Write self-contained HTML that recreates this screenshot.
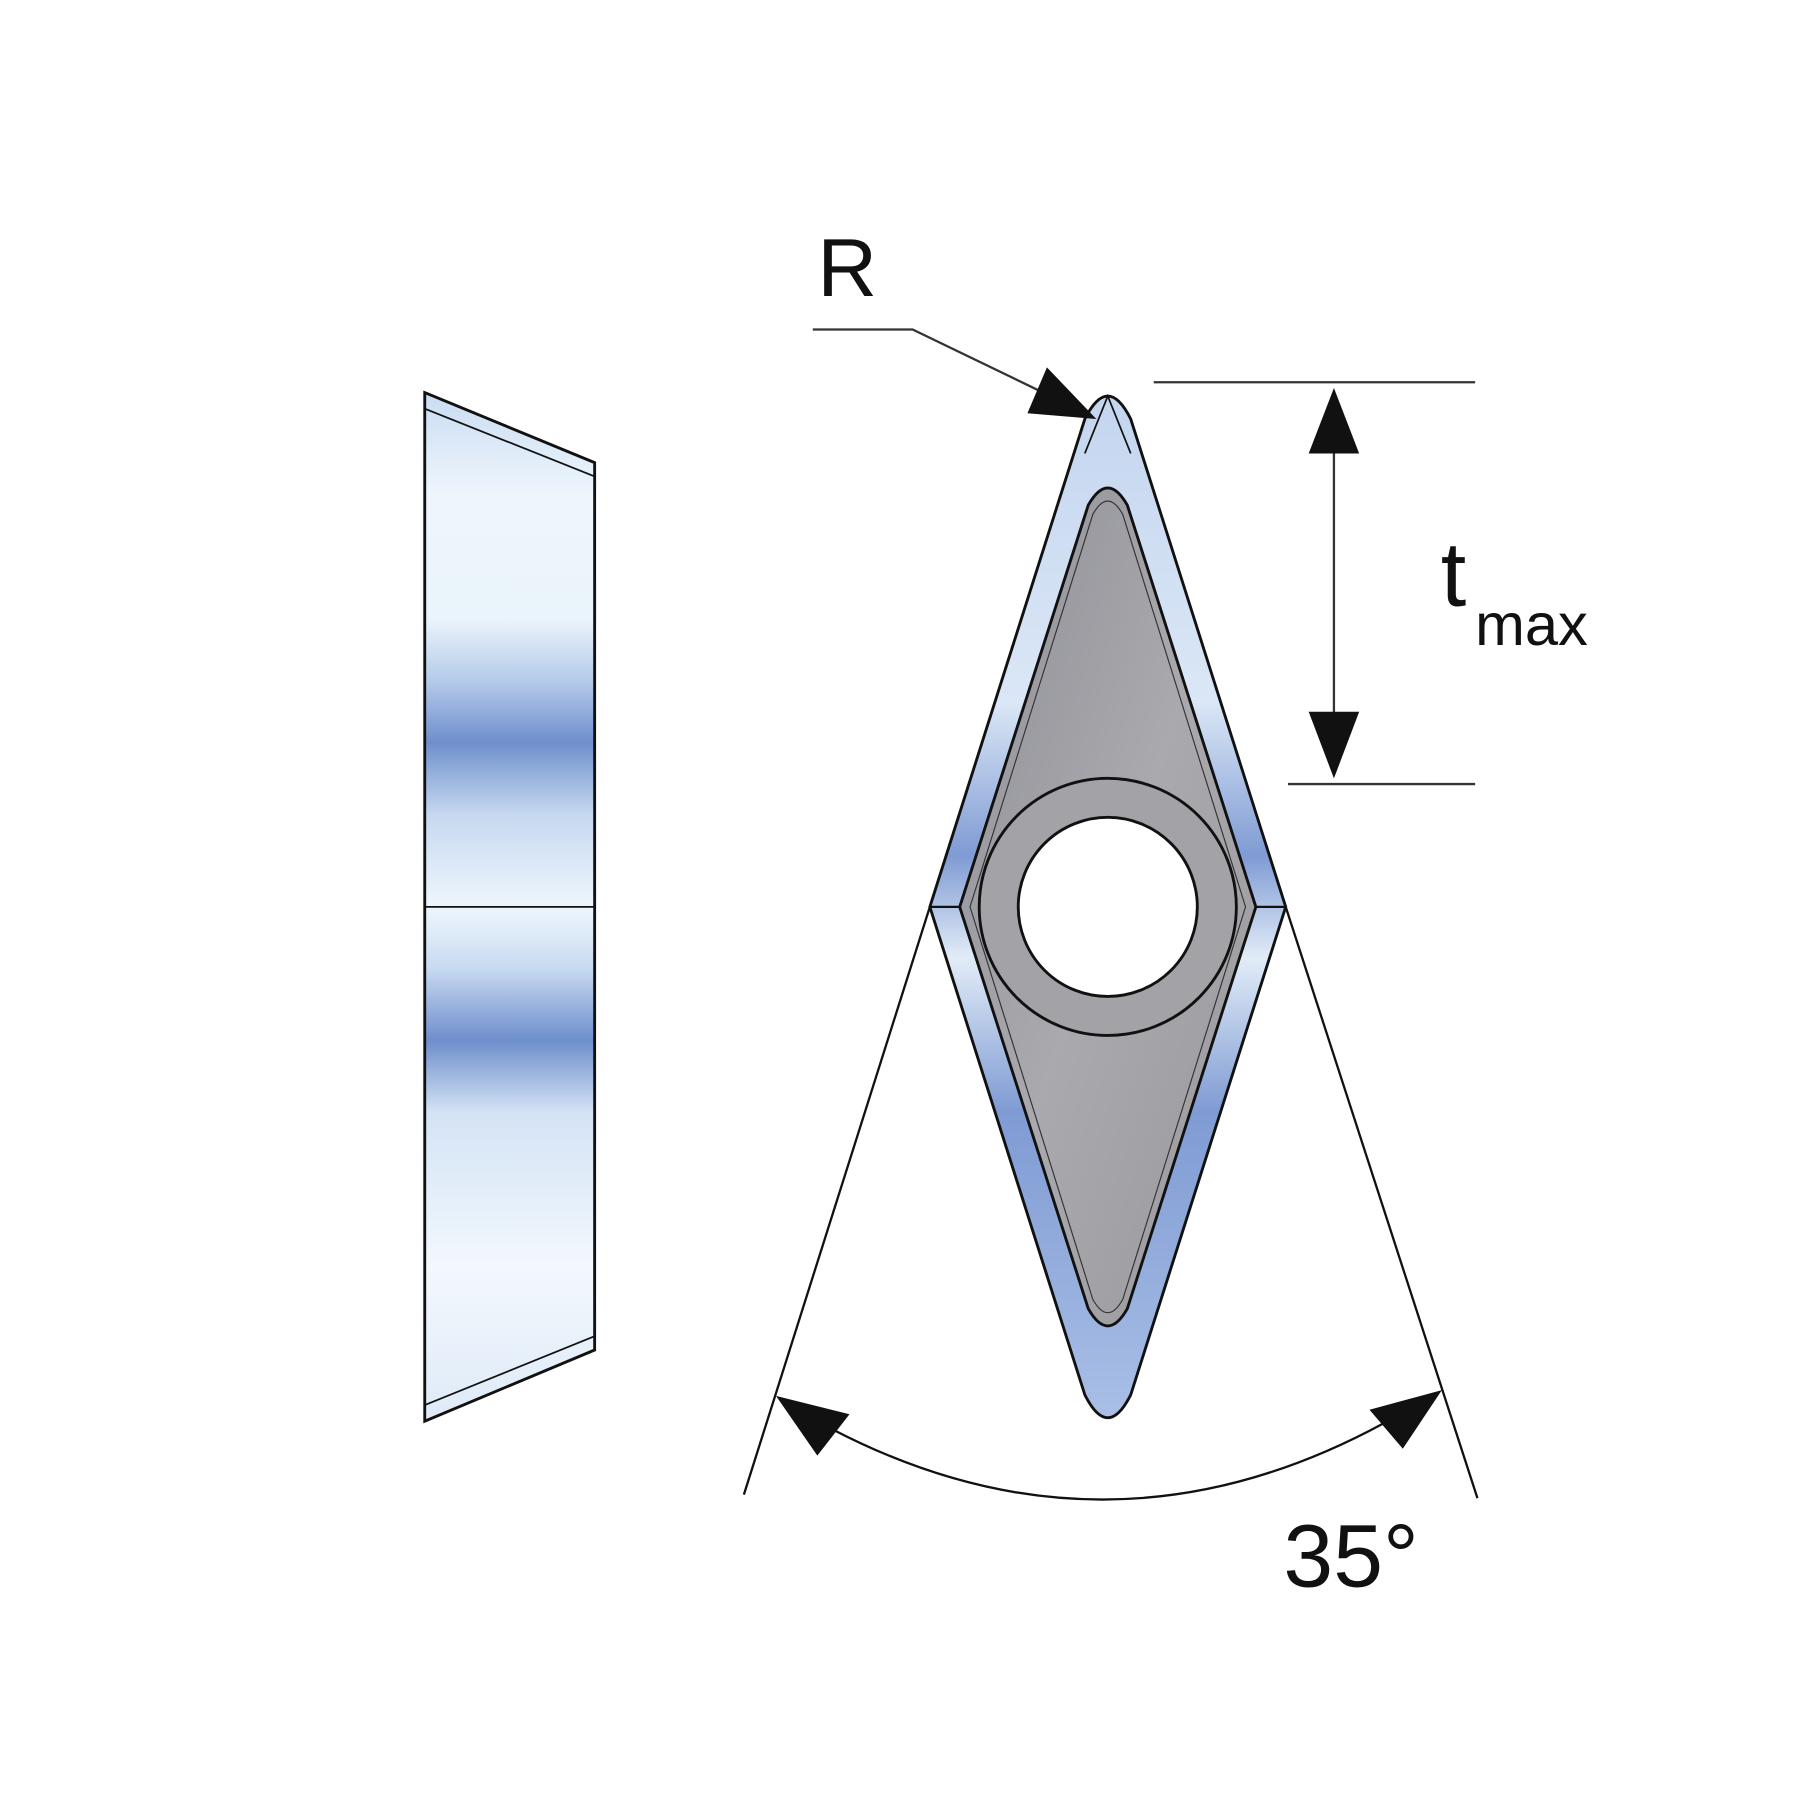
<!DOCTYPE html>
<html><head><meta charset="utf-8"><style>
html,body{margin:0;padding:0;background:#fff;}
svg{display:block;}
text{font-family:"Liberation Sans",sans-serif;fill:#111;}
</style></head><body>
<svg width="1800" height="1800" viewBox="0 0 1568 1568" xmlns="http://www.w3.org/2000/svg">
<defs>
<linearGradient id="lg" x1="0" y1="0" x2="0" y2="1">
<stop offset="0" stop-color="#c9dcf2"/>
<stop offset="0.1" stop-color="#eef6fc"/>
<stop offset="0.22" stop-color="#eaf4fb"/>
<stop offset="0.28" stop-color="#b5cbea"/>
<stop offset="0.34" stop-color="#6f8fcc"/>
<stop offset="0.41" stop-color="#c6d8f0"/>
<stop offset="0.5" stop-color="#eef6fc"/>
<stop offset="0.56" stop-color="#c8daf1"/>
<stop offset="0.63" stop-color="#6e8ecc"/>
<stop offset="0.7" stop-color="#d4e3f5"/>
<stop offset="0.85" stop-color="#f2f8fd"/>
<stop offset="1" stop-color="#dfeaf7"/>
</linearGradient>
<linearGradient id="dg" x1="0" y1="0" x2="0" y2="1">
<stop offset="0" stop-color="#c4d5ef"/>
<stop offset="0.3" stop-color="#dbe7f6"/>
<stop offset="0.45" stop-color="#7f9bd3"/>
<stop offset="0.55" stop-color="#e2ecf8"/>
<stop offset="0.7" stop-color="#7f9bd3"/>
<stop offset="1" stop-color="#a9bfe6"/>
</linearGradient>
<linearGradient id="gg" x1="0" y1="0" x2="1" y2="1">
<stop offset="0" stop-color="#8e8f95"/>
<stop offset="0.5" stop-color="#a9a9ae"/>
<stop offset="1" stop-color="#97979c"/>
</linearGradient>
</defs>
<!-- left insert -->
<polygon points="370,342 518,403 518,1176 370,1238" fill="url(#lg)" stroke="#111" stroke-width="2.5"/>
<polyline points="370,356 518,415" fill="none" stroke="#111" stroke-width="1.5"/>
<polyline points="370,1224 518,1164" fill="none" stroke="#111" stroke-width="1.5"/>
<line x1="370" y1="790" x2="518" y2="790" stroke="#111" stroke-width="1.5"/>
<!-- diamond -->
<path d="M945,365 Q965,325 985,365 L1120,790 L985,1215 Q965,1255 945,1215 L810,790 Z" fill="url(#dg)" stroke="#111" stroke-width="2.5"/>
<path d="M945,395 L965,345 L985,395" fill="none" stroke="#111" stroke-width="1.5"/>
<line x1="810" y1="790" x2="836" y2="790" stroke="#111" stroke-width="2"/>
<line x1="1094" y1="790" x2="1120" y2="790" stroke="#111" stroke-width="2"/>
<path d="M948,440 Q965,410 982,440 L1094,790 L982,1140 Q965,1170 948,1140 L836,790 Z" fill="url(#gg)" stroke="#111" stroke-width="2.5"/>
<path d="M952,448 Q965,425 978,448 L1085,790 L978,1132 Q965,1155 952,1132 L845,790 Z" fill="none" stroke="#333" stroke-width="1"/>
<circle cx="965" cy="790" r="112" fill="#a2a2a7" stroke="#111" stroke-width="2.5"/>
<circle cx="965" cy="790" r="78" fill="#fff" stroke="#111" stroke-width="2.5"/>
<!-- R leader -->
<text x="712" y="258" font-size="72">R</text>
<polyline points="708,287 795,287 915,345" fill="none" stroke="#333" stroke-width="2"/>
<polygon points="955,365 895,360 912,320" fill="#111"/>
<!-- t max -->
<line x1="1005" y1="333" x2="1285" y2="333" stroke="#333" stroke-width="2"/>
<line x1="1122" y1="683" x2="1285" y2="683" stroke="#333" stroke-width="2"/>
<line x1="1162" y1="390" x2="1162" y2="625" stroke="#333" stroke-width="2"/>
<polygon points="1162,338 1140,395 1184,395" fill="#111"/>
<polygon points="1162,678 1140,620 1184,620" fill="#111"/>
<text x="1255" y="528" font-size="80">t</text>
<text x="1285" y="562" font-size="52">max</text>
<!-- angle -->
<line x1="810" y1="790" x2="648" y2="1302" stroke="#111" stroke-width="2"/>
<line x1="1120" y1="790" x2="1287" y2="1305" stroke="#111" stroke-width="2"/>
<path d="M725,1245 Q965,1370 1205,1240" fill="none" stroke="#111" stroke-width="2"/>
<polygon points="676,1216 740,1232 712,1268" fill="#111"/>
<polygon points="1256,1211 1222,1262 1193,1228" fill="#111"/>
<text x="1118" y="1382" font-size="78">35°</text>
</svg>
</body></html>
